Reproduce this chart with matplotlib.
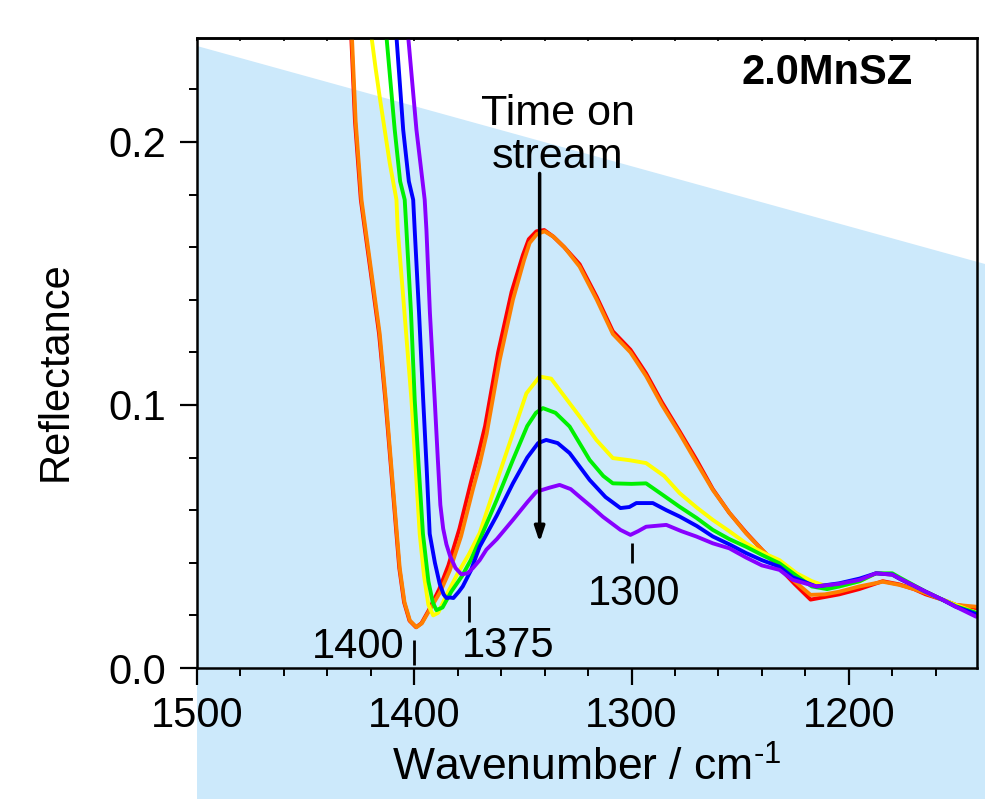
import matplotlib
matplotlib.use("Agg")
import matplotlib.pyplot as plt
from matplotlib.patches import Polygon
from matplotlib.ticker import MultipleLocator

plt.rcParams['font.family'] = ['Liberation Sans', 'DejaVu Sans']
plt.rcParams['mathtext.fontset'] = 'custom'
plt.rcParams['mathtext.rm'] = 'Liberation Sans'
plt.rcParams['mathtext.default'] = 'rm'

# ---- data (wavenumber / cm-1, reflectance) ----
wn_red = [1429.6, 1429.0, 1427.3, 1424.6, 1420.3, 1416.2, 1413.2, 1410.7, 1408.7,
          1406.9, 1404.7, 1402.2, 1399.2, 1396.7, 1393.3, 1388.5, 1384.3, 1379.2,
          1373.8, 1370.6, 1367.4, 1361.4, 1355.2, 1350.0, 1347.3, 1343.8, 1340.2,
          1336.0, 1331.0, 1323.9, 1316.0, 1308.6, 1300.5, 1293.3, 1286.0, 1277.9,
          1270.0, 1262.6, 1255.0, 1247.3, 1240.0, 1231.9, 1225.0, 1217.6, 1211.0,
          1204.4, 1195.2, 1184.4, 1176.8, 1170.0, 1164.6, 1157.0, 1150.8, 1141.4]
refl_red = [0.250, 0.240, 0.208, 0.178, 0.152, 0.127, 0.101, 0.076, 0.056,
            0.038, 0.025, 0.018, 0.0155, 0.017, 0.022, 0.030, 0.039, 0.053,
            0.071, 0.081, 0.092, 0.120, 0.143, 0.157, 0.163, 0.166, 0.1665,
            0.164, 0.160, 0.1535, 0.141, 0.128, 0.121, 0.112, 0.101, 0.090,
            0.079, 0.068, 0.059, 0.0515, 0.045, 0.038, 0.032, 0.026, 0.027,
            0.028, 0.030, 0.033, 0.0318, 0.030, 0.028, 0.026, 0.024, 0.0228]

wn_orange = [1429.3, 1428.7, 1427.0, 1424.3, 1420.0, 1415.9, 1413.0, 1410.5, 1408.5,
             1406.7, 1404.5, 1402.0, 1399.0, 1396.5, 1393.0, 1388.0, 1383.7, 1378.5,
             1373.0, 1369.9, 1366.7, 1360.7, 1354.6, 1349.5, 1346.9, 1343.5, 1340.0,
             1336.0, 1331.0, 1323.9, 1316.0, 1308.6, 1300.5, 1293.3, 1286.0, 1277.9,
             1270.0, 1262.6, 1255.0, 1247.3, 1240.0, 1231.9, 1225.0, 1217.6, 1211.0,
             1204.4, 1195.2, 1184.4, 1176.8, 1170.0, 1164.6, 1157.0, 1150.8, 1141.4]
refl_orange = [0.250, 0.240, 0.208, 0.178, 0.152, 0.127, 0.101, 0.076, 0.056,
               0.038, 0.025, 0.018, 0.0155, 0.017, 0.022, 0.029, 0.037, 0.050,
               0.068, 0.0775, 0.089, 0.117, 0.140, 0.155, 0.1616, 0.165, 0.166,
               0.164, 0.160, 0.1526, 0.140, 0.127, 0.120, 0.111, 0.100, 0.0892,
               0.078, 0.0677, 0.059, 0.0512, 0.045, 0.0385, 0.033, 0.0278, 0.028,
               0.029, 0.031, 0.0328, 0.0316, 0.030, 0.0284, 0.026, 0.024, 0.0233]

wn_yellow = [1420.2, 1419.7, 1417.8, 1415.9, 1411.3, 1408.2, 1407.6, 1404.5, 1401.3,
             1399.5, 1397.5, 1395.5, 1393.5, 1391.3, 1389.0, 1385.0, 1380.0, 1375.0,
             1369.9, 1362.0, 1354.6, 1348.4, 1342.3, 1337.0, 1333.1, 1323.9, 1316.2,
             1308.6, 1301.0, 1293.3, 1285.0, 1277.9, 1270.0, 1262.6, 1255.0, 1247.3,
             1240.0, 1231.9, 1224.0, 1217.0, 1210.0, 1204.4, 1195.0, 1187.5, 1180.0,
             1176.8, 1164.6, 1157.0, 1150.8, 1141.4]
refl_yellow = [0.250, 0.240, 0.228, 0.217, 0.192, 0.178, 0.1665, 0.135, 0.102,
               0.078, 0.051, 0.035, 0.024, 0.020, 0.021, 0.028, 0.036, 0.043,
               0.0513, 0.071, 0.0892, 0.1044, 0.1108, 0.110, 0.1057, 0.0956, 0.0867,
               0.0798, 0.079, 0.0779, 0.073, 0.0665, 0.061, 0.0563, 0.052, 0.0474,
               0.044, 0.041, 0.036, 0.033, 0.031, 0.031, 0.033, 0.036, 0.0355,
               0.034, 0.029, 0.026, 0.024, 0.021]

wn_green = [1413.2, 1412.8, 1409.0, 1406.5, 1404.4, 1403.6, 1401.5, 1399.8, 1398.0,
            1396.0, 1393.5, 1391.5, 1389.8, 1387.0, 1383.0, 1378.0, 1374.0, 1369.9,
            1362.0, 1354.6, 1348.0, 1344.0, 1340.8, 1335.0, 1328.5, 1319.3, 1313.0,
            1308.6, 1300.0, 1293.3, 1286.0, 1277.9, 1270.0, 1262.6, 1255.0, 1247.3,
            1240.0, 1231.9, 1224.0, 1217.0, 1210.0, 1204.4, 1195.0, 1187.5, 1180.0,
            1176.8, 1164.6, 1157.0, 1150.8, 1141.4]
refl_green = [0.250, 0.240, 0.2046, 0.185, 0.178, 0.1665, 0.135, 0.102, 0.077,
              0.051, 0.033, 0.025, 0.022, 0.023, 0.029, 0.035, 0.041, 0.0487,
              0.064, 0.0791, 0.092, 0.097, 0.0988, 0.097, 0.0918, 0.0791, 0.073,
              0.0702, 0.070, 0.0702, 0.066, 0.0613, 0.057, 0.0525, 0.049, 0.0461,
              0.043, 0.0398, 0.035, 0.031, 0.030, 0.031, 0.033, 0.036, 0.036,
              0.0345, 0.029, 0.026, 0.0235, 0.021]

wn_blue = [1408.5, 1408.2, 1405.1, 1402.5, 1400.5, 1399.8, 1397.8, 1395.9, 1394.3,
           1392.9, 1390.5, 1388.3, 1386.5, 1385.2, 1383.5, 1382.0, 1379.5, 1377.7,
           1374.0, 1369.9, 1362.0, 1354.6, 1348.0, 1343.0, 1339.3, 1334.0, 1328.5,
           1319.3, 1312.0, 1305.1, 1301.0, 1297.8, 1290.2, 1284.0, 1277.9, 1270.0,
           1262.6, 1255.0, 1247.3, 1240.0, 1231.9, 1225.8, 1215.0, 1204.4, 1195.0,
           1187.5, 1180.0, 1176.8, 1164.6, 1157.0, 1150.8, 1141.4]
refl_blue = [0.250, 0.240, 0.2046, 0.185, 0.178, 0.1665, 0.135, 0.102, 0.076,
             0.051, 0.040, 0.032, 0.028, 0.0266, 0.0268, 0.0266, 0.029, 0.031,
             0.037, 0.0461, 0.058, 0.0702, 0.080, 0.0855, 0.0867, 0.0855, 0.0817,
             0.0715, 0.065, 0.0608, 0.0612, 0.0627, 0.0627, 0.060, 0.0576, 0.054,
             0.050, 0.047, 0.0437, 0.041, 0.0385, 0.0345, 0.031, 0.0322, 0.034,
             0.036, 0.0355, 0.034, 0.029, 0.026, 0.0233, 0.0205]

wn_violet = [1403.0, 1402.8, 1399.0, 1395.2, 1394.4, 1392.8, 1390.6, 1389.2, 1388.0,
             1386.7, 1385.2, 1383.5, 1381.0, 1378.3, 1375.5, 1373.0, 1369.9, 1366.8,
             1362.0, 1354.6, 1348.0, 1343.8, 1338.0, 1333.1, 1328.0, 1323.9, 1318.0,
             1313.2, 1305.1, 1300.5, 1297.0, 1293.3, 1284.0, 1277.0, 1270.2, 1262.6,
             1255.0, 1247.3, 1240.0, 1231.9, 1225.8, 1215.0, 1204.4, 1195.0, 1187.5,
             1180.0, 1176.8, 1164.6, 1157.0, 1150.8, 1141.4]
refl_violet = [0.250, 0.240, 0.2046, 0.178, 0.1665, 0.135, 0.102, 0.080, 0.062,
               0.053, 0.047, 0.0425, 0.038, 0.0356, 0.036, 0.038, 0.041, 0.045,
               0.049, 0.0563, 0.063, 0.067, 0.0685, 0.0696, 0.068, 0.0651, 0.061,
               0.0575, 0.0525, 0.0506, 0.052, 0.0537, 0.0544, 0.052, 0.050, 0.0474,
               0.0455, 0.042, 0.039, 0.0373, 0.0335, 0.031, 0.032, 0.0335, 0.036,
               0.0355, 0.0341, 0.029, 0.026, 0.0233, 0.0195]

series = [
    (wn_red, refl_red, '#ff0000'),
    (wn_orange, refl_orange, '#ff7f00'),
    (wn_yellow, refl_yellow, '#ffff00'),
    (wn_green, refl_green, '#00f000'),
    (wn_blue, refl_blue, '#0000ff'),
    (wn_violet, refl_violet, '#8800ff'),
]

# band markers (wavenumber, label)
band_pos = [1400, 1375, 1300]
band_labels = ['1400', '1375', '1300']

fig = plt.figure(figsize=(9.85, 7.99), dpi=100)
W, H = 985.0, 799.0

# light blue slanted backdrop (figure coords)
bg = Polygon([(197 / W, 1 - 46 / H), (1.0, 1 - 264 / H), (1.0, 0.0), (197 / W, 0.0)],
             closed=True, transform=fig.transFigure, facecolor='#cce9fb',
             edgecolor='none', zorder=-5)
fig.add_artist(bg)

ax = fig.add_axes([197 / W, 1 - 668 / H, (977 - 197) / W, (668 - 38) / H])
ax.patch.set_alpha(0)

for x, y, c in series:
    ax.plot(x, y, color=c, lw=2.8, solid_joinstyle='round', solid_capstyle='round')

ax.set_xlim(1500, 1141)
ax.set_ylim(0, 0.2395)

ax.xaxis.set_major_locator(MultipleLocator(100))
ax.xaxis.set_minor_locator(MultipleLocator(20))
ax.yaxis.set_major_locator(MultipleLocator(0.1))
ax.yaxis.set_minor_locator(MultipleLocator(0.02))
ax.yaxis.set_major_formatter(matplotlib.ticker.FormatStrFormatter('%.1f'))

ax.tick_params(which='major', direction='out', length=12, width=1.6, labelsize=30,
               top=False, right=False)
ax.tick_params(which='minor', direction='out', length=6, width=1.4, top=False, right=False)
ax.tick_params(axis='x', which='major', pad=8)
ax.tick_params(axis='y', which='major', pad=10)
# tiny inward ticks along the top spine
top = ax.secondary_xaxis('top')
top.xaxis.set_major_locator(MultipleLocator(20))
top.tick_params(direction='in', length=2.5, width=1.2, labeltop=False)
top.spines['top'].set_linewidth(1.8)
for s in ax.spines.values():
    s.set_linewidth(1.8)

ax.set_xlabel(r'Wavenumber / cm$^{\text{-1}}$', fontsize=32, labelpad=8)
ax.set_ylabel('Reflectance', fontsize=30, labelpad=24)
ax.yaxis.set_label_coords(-0.156, 0.471)

ax.text(0.808, 0.944, '2.0MnSZ', transform=ax.transAxes, fontsize=30,
        fontweight='bold', ha='center', va='center')

ax.text(1334.0, 0.2025, 'Time on\nstream', fontsize=31, ha='center', va='center',
        linespacing=1.08)
ax.annotate('', xy=(1342.3, 0.0478), xytext=(1342.3, 0.188),
            arrowprops=dict(arrowstyle='-|>,head_length=0.9,head_width=0.3',
                            color='black', lw=2.5, shrinkA=0, shrinkB=0))

# band tick marks with labels
ax.vlines(band_pos[0], 0.001, 0.0105, color='black', lw=2)
ax.text(band_pos[0] + 4.5, 0.0005, band_labels[0], fontsize=30, ha='right', va='bottom')
ax.vlines(band_pos[1], 0.0175, 0.0272, color='black', lw=2)
ax.text(1356.6, 0.0085, band_labels[1], fontsize=30, ha='center', va='center')
ax.vlines(band_pos[2], 0.0398, 0.0475, color='black', lw=2)
ax.text(1298.6, 0.028, band_labels[2], fontsize=30, ha='center', va='center')

fig.savefig('out.png', dpi=100)
